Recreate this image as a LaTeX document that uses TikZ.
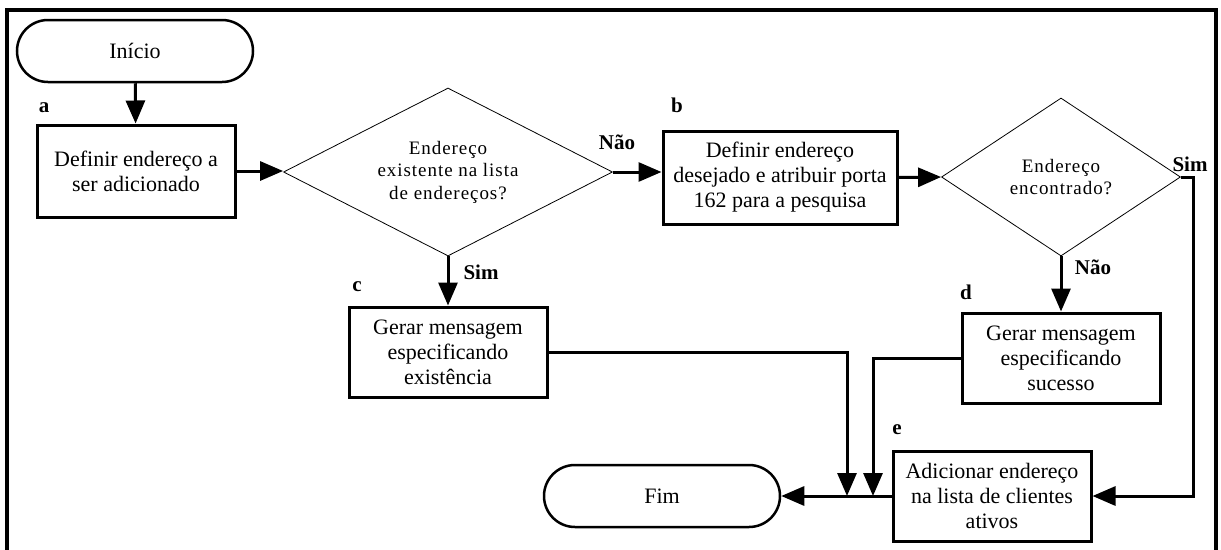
\documentclass[tikz,border=0pt]{standalone}
\usepackage{fontspec}
\setmainfont{Liberation Serif}
\usetikzlibrary{arrows.meta,shapes.geometric}
\tikzset{
  procbox/.style={draw, line width=3pt, rectangle, inner sep=0pt, align=center,
    font=\fontsize{22}{25}\selectfont},
  term/.style={draw, line width=2.5pt, rectangle, rounded corners=31pt, inner sep=0pt,
    minimum width=236pt, minimum height=62pt, font=\fontsize{22}{25}\selectfont},
  decis/.style={draw, line width=0.8pt, diamond, inner sep=0pt, align=center,
    font=\fontsize{19}{22.5}\selectfont\addfontfeature{LetterSpace=5}},
  arr/.style={line width=3pt, -{Triangle[length=23pt,width=19pt]}},
  lbl/.style={font=\fontsize{21}{23}\selectfont\bfseries, inner sep=0pt}
}
\begin{document}
\begin{tikzpicture}[x=1pt,y=-1pt]
\useasboundingbox (0,0) rectangle (1221,549);
% outer frame
\draw[line width=4pt] (7,570) -- (7,10) -- (1216,10) -- (1216,570);

\node[term] (ini) at (135,51) {Início};
\node[procbox, minimum width=198pt, minimum height=92pt] (a) at (136,171)
  {Definir endereço a\\ser adicionado};
\node[decis, shape aspect=1.96, minimum width=329pt, minimum height=168pt] (d1) at (448,172)
  {Endereço\\existente na lista\\de endereços?};
\node[procbox, minimum width=234pt, minimum height=93pt] (b) at (780,177.5)
  {Definir endereço\\desejado e atribuir porta\\162 para a pesquisa};
\node[decis, shape aspect=1.51, minimum width=239pt, minimum height=158pt] (d2) at (1061,177)
  {Endereço\\encontrado?};
\node[procbox, minimum width=198pt, minimum height=90pt] (c) at (448,352)
  {Gerar mensagem\\especificando\\existência};
\node[procbox, minimum width=198pt, minimum height=90pt] (d) at (1061,358)
  {Gerar mensagem\\especificando\\sucesso};
\node[procbox, minimum width=198pt, minimum height=90pt] (e) at (992,496)
  {Adicionar endereço\\na lista de clientes\\ativos};
\node[term] (fim) at (662,496) {Fim};

% labels
\node[lbl] (la) at (44,108) {a};
\node[lbl] (lb) at (677,105) {b};
\node[lbl] (lc) at (357,287) {c};
\node[lbl] (ld) at (966,292) {d};
\node[lbl] (le) at (897,430) {e};
\node[lbl] (nao1) at (617,142) {Não};
\node[lbl] (sim1) at (481,272) {Sim};
\node[lbl] (nao2) at (1093,267) {Não};
\node[lbl] (sim2) at (1190,164) {Sim};

\coordinate (j1) at (847,496);
\coordinate (j2) at (873,496);
\coordinate (r1) at (1193,177);

% connectors
\draw[arr] (ini) -- (a);
\draw[arr] (a.east) -- (a.east -| d1.west);
\draw[arr] (d1.east) -- (d1.east -| b.west);
\draw[arr] (b.east) -- (d2.west);
\draw[arr] (d1.south) -- (c.north);
\draw[arr] (d2.south) -- (d.north);
\draw[arr] (d2.east) -- (r1) |- (e.east);
\draw[arr] (e.west) -- (fim.east);
\draw[arr] (c.east) -| (j1);
\draw[arr] (d.west) -| (j2);
\end{tikzpicture}
\end{document}
